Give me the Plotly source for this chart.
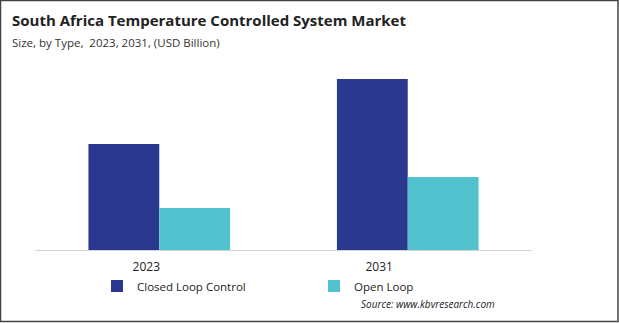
import plotly.graph_objects as go

categories = ["2023", "2031"]
closed_loop = [1.06, 1.71]
open_loop = [0.42, 0.73]
series_names = ["Closed Loop Control", "Open Loop"]

W, H = 619, 323
ML, MR, MT, MB = 35, 87, 70, 73
PW, PH = W - ML - MR, H - MT - MB

def px(x):
    return (x - ML) / PW

def py(y):
    return 1 - (y - MT) / PH

fig = go.Figure()
fig.add_trace(go.Bar(x=categories, y=closed_loop, name=series_names[0],
                     marker=dict(color="#2B388F", line=dict(width=0))))
fig.add_trace(go.Bar(x=categories, y=open_loop, name=series_names[1],
                     marker=dict(color="#52C3CE", line=dict(width=0))))

fig.update_layout(
    width=W, height=H,
    margin=dict(l=ML, r=MR, t=MT, b=MB),
    paper_bgcolor="white", plot_bgcolor="white",
    barmode="group", bargap=0.43, bargroupgap=0,
    font=dict(family="Open Sans", color="#222222"),
    showlegend=True,
    legend=dict(orientation="h", x=px(97), y=py(286), xanchor="left", yanchor="middle",
                entrywidth=172, entrywidthmode="pixels",
                font=dict(size=11.5, color="#222222"), bgcolor="rgba(0,0,0,0)"),
    xaxis=dict(showgrid=False, showline=True, linecolor="#d4d4d4", linewidth=1,
               ticks="", tickfont=dict(size=12, color="#222222"), ticklabelstandoff=6,
               tickmode="array", tickvals=[-0.052, 0.885], ticktext=categories),
    yaxis=dict(range=[0, 1.8], visible=False, showgrid=False),
    annotations=[
        dict(text="<b>South Africa Temperature Controlled System Market</b>",
             xref="paper", yref="paper", x=px(10), y=py(20), xanchor="left", yanchor="middle",
             showarrow=False, font=dict(size=15, color="#222222")),
        dict(text="Size, by Type,  2023, 2031, (USD Billion)",
             xref="paper", yref="paper", x=px(10), y=py(42), xanchor="left", yanchor="middle",
             showarrow=False, font=dict(size=11.5, color="#333333")),
        dict(text="<i>Source: www.kbvresearch.com</i>",
             xref="paper", yref="paper", x=px(497), y=py(304), xanchor="right", yanchor="middle",
             showarrow=False, font=dict(size=10, color="#222222")),
    ],
    shapes=[
        dict(type="rect", xref="paper", yref="paper",
             x0=px(0.5), x1=px(W - 1), y0=py(0.5), y1=py(H - 1.5),
             line=dict(color="#444444", width=1.5), fillcolor="rgba(0,0,0,0)", layer="above"),
    ],
)

fig.write_html("out.html")
